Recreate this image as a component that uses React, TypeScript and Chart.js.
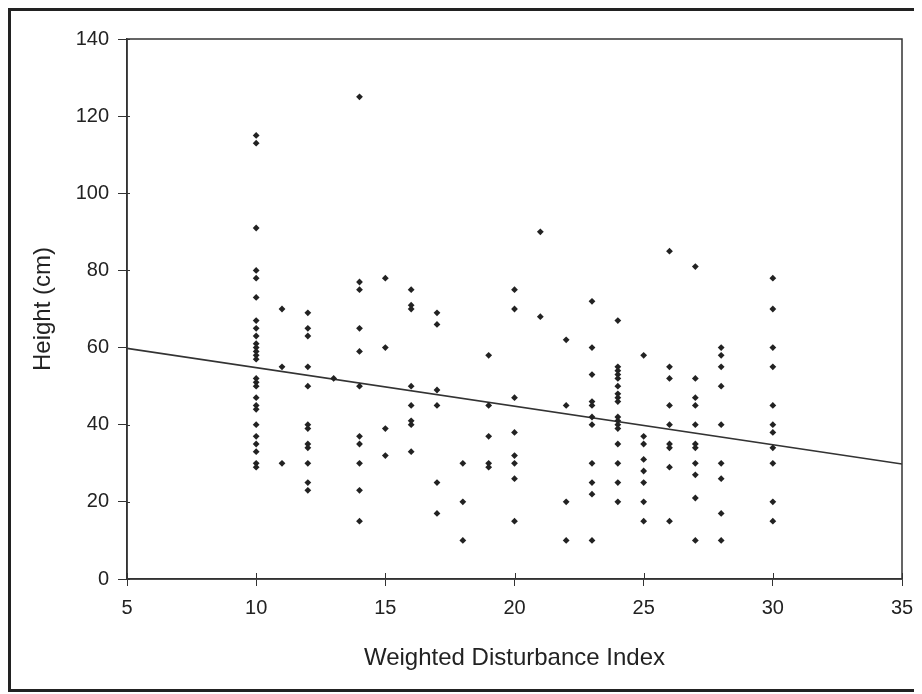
import React, { useEffect, useRef } from "react";
import { Chart, registerables } from "chart.js";

Chart.register(...registerables);

// Weighted disturbance index values (x) and the heights (cm) observed at each
const disturbanceIndex = [10, 11, 12, 13, 14, 15, 16, 17, 18, 19, 20, 21, 22, 23, 24, 25, 26, 27, 28, 30];

const heightsAt10 = [115, 113, 91, 80, 78, 73, 67, 65, 63, 61, 60, 59, 58, 57, 52, 51, 50, 47, 45, 44, 40, 37, 35, 33, 30, 29];
const heightsAt11 = [70, 55, 30];
const heightsAt12 = [69, 65, 63, 55, 50, 40, 39, 35, 34, 30, 25, 23];
const heightsAt13 = [52];
const heightsAt14 = [125, 77, 75, 65, 59, 50, 37, 35, 30, 23, 15];
const heightsAt15 = [78, 60, 39, 32];
const heightsAt16 = [75, 71, 70, 50, 45, 41, 40, 33];
const heightsAt17 = [69, 66, 49, 45, 25, 17];
const heightsAt18 = [30, 20, 10];
const heightsAt19 = [58, 45, 37, 30, 29];
const heightsAt20 = [75, 70, 47, 38, 32, 30, 26, 15];
const heightsAt21 = [90, 68];
const heightsAt22 = [62, 45, 20, 10];
const heightsAt23 = [72, 60, 53, 46, 45, 42, 40, 30, 25, 22, 10];
const heightsAt24 = [67, 55, 54, 53, 52, 50, 48, 47, 46, 42, 41, 40, 39, 35, 30, 25, 20];
const heightsAt25 = [58, 37, 35, 31, 28, 25, 20, 15];
const heightsAt26 = [85, 55, 52, 45, 40, 35, 34, 29, 15];
const heightsAt27 = [81, 52, 47, 45, 40, 35, 34, 30, 27, 21, 10];
const heightsAt28 = [60, 58, 55, 50, 40, 30, 26, 17, 10];
const heightsAt30 = [78, 70, 60, 55, 45, 40, 38, 34, 30, 20, 15];

const heightColumns = [
  heightsAt10, heightsAt11, heightsAt12, heightsAt13, heightsAt14, heightsAt15,
  heightsAt16, heightsAt17, heightsAt18, heightsAt19, heightsAt20, heightsAt21,
  heightsAt22, heightsAt23, heightsAt24, heightsAt25, heightsAt26, heightsAt27,
  heightsAt28, heightsAt30,
];

// Regression (trend) line end points
const trendX = [5, 35];
const trendY = [59.8, 29.8];

// Axis ranges / ticks
const xTicks = [5, 10, 15, 20, 25, 30, 35];
const yTicks = [0, 20, 40, 60, 80, 100, 120, 140];

const FONT = '"Liberation Sans", Arial, Helvetica, sans-serif';
const INK = "#222";

export default function App() {
  const canvasRef = useRef<HTMLCanvasElement | null>(null);

  useEffect(() => {
    if (!canvasRef.current) return;

    const points: { x: number; y: number }[] = [];
    disturbanceIndex.forEach((x, i) => {
      heightColumns[i].forEach((y) => points.push({ x, y }));
    });

    const frame = {
      id: "plotFrame",
      afterDatasetsDraw(chart: any) {
        const { ctx, chartArea } = chart;
        const xs = chart.scales.x;
        const ys = chart.scales.y;
        ctx.save();
        ctx.strokeStyle = "#333";
        ctx.lineWidth = 1.5;
        ctx.strokeRect(chartArea.left, chartArea.top, chartArea.right - chartArea.left, chartArea.bottom - chartArea.top);
        // inner halves of the crossing tick marks
        ctx.lineWidth = 1;
        ctx.beginPath();
        xTicks.forEach((v) => {
          const px = Math.round(xs.getPixelForValue(v)) + 0.5;
          ctx.moveTo(px, chartArea.bottom);
          ctx.lineTo(px, chartArea.bottom - 6);
        });
        yTicks.forEach((v) => {
          const py = Math.round(ys.getPixelForValue(v)) + 0.5;
          ctx.moveTo(chartArea.left, py);
          ctx.lineTo(chartArea.left + 3, py);
        });
        ctx.stroke();
        ctx.restore();
      },
    };

    const chart = new Chart(canvasRef.current, {
      type: "scatter",
      data: {
        datasets: [
          {
            label: "Height",
            data: points,
            pointStyle: "rectRot",
            pointRadius: 3.4,
            pointHoverRadius: 3.4,
            backgroundColor: INK,
            borderColor: INK,
            borderWidth: 0,
          },
          {
            type: "line",
            label: "Trend",
            data: trendX.map((x, i) => ({ x, y: trendY[i] })),
            borderColor: "#333",
            borderWidth: 1.6,
            pointRadius: 0,
            fill: false,
          } as any,
        ],
      },
      options: {
        animation: false,
        responsive: false,
        maintainAspectRatio: false,
        layout: { padding: { left: 0, right: 14, top: 28, bottom: 0 } },
        plugins: {
          legend: { display: false },
          tooltip: { enabled: false },
        },
        scales: {
          x: {
            type: "linear",
            min: 5,
            max: 35,
            afterFit(scale: any) {
              scale.height = 110;
              scale.paddingLeft = 0;
              scale.paddingRight = 0;
            },
            afterBuildTicks(scale: any) {
              scale.ticks = xTicks.map((v) => ({ value: v }));
            },
            border: { display: true, color: "#333", width: 1.5 },
            grid: { display: true, drawOnChartArea: false, drawTicks: true, tickLength: 7, color: "#333" },
            ticks: {
              color: INK,
              padding: 10,
              maxRotation: 0,
              font: { family: FONT, size: 20 },
            },
            title: {
              display: true,
              text: "Weighted Disturbance Index",
              color: INK,
              font: { family: FONT, size: 24 },
              padding: { top: 0, bottom: 16 },
            },
          },
          y: {
            type: "linear",
            min: 0,
            max: 140,
            afterFit(scale: any) {
              scale.width = 116;
            },
            afterBuildTicks(scale: any) {
              scale.ticks = yTicks.map((v) => ({ value: v }));
            },
            border: { display: true, color: "#333", width: 1.5 },
            grid: { display: true, drawOnChartArea: false, drawTicks: true, tickLength: 9, color: "#333" },
            ticks: {
              color: INK,
              padding: 9,
              font: { family: FONT, size: 20 },
            },
            title: {
              display: true,
              text: "Height (cm)",
              color: INK,
              font: { family: FONT, size: 24 },
              padding: { top: 18, bottom: 0 },
            },
          },
        },
      },
      plugins: [frame],
    });

    return () => chart.destroy();
  }, []);

  return (
    <div
      style={{
        width: 911,
        height: 684,
        border: "3px solid #222",
        boxSizing: "border-box",
        background: "#fff",
      }}
    >
      <canvas ref={canvasRef} width={905} height={678} style={{ display: "block", width: 905, height: 678 }} />
    </div>
  );
}
